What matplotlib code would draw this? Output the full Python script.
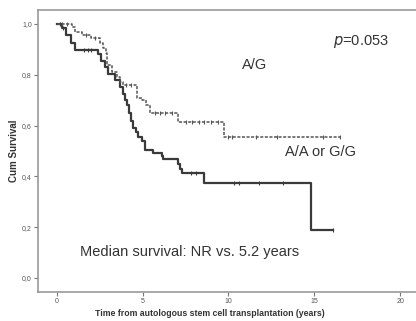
import numpy as np
import matplotlib
matplotlib.use("Agg")
import matplotlib.pyplot as plt

plt.rcParams['font.family'] = ['Liberation Sans', 'DejaVu Sans']

# Kaplan-Meier steps: event times (years) and survival after each step
ag_times = [0, 0.3, 0.55, 0.8, 1.05, 2.4, 2.6, 2.8, 3.0, 3.4, 3.7, 3.85, 3.95, 4.1,
            4.2, 4.3, 4.45, 4.6, 4.75, 4.95, 5.15, 5.6, 6.1, 6.2, 7.05, 7.2, 7.3, 8.6, 14.8]
ag_surv = [1.0, 0.985, 0.955, 0.925, 0.897, 0.88, 0.855, 0.83, 0.805, 0.78, 0.752, 0.725, 0.70, 0.68,
           0.65, 0.62, 0.59, 0.575, 0.555, 0.54, 0.504, 0.492, 0.48, 0.467, 0.45, 0.43, 0.415, 0.374, 0.19]
ag_end = 16.1
ag_censor = [0.2, 0.35, 1.6, 1.8, 2.0, 7.8, 8.1, 10.3, 10.6, 11.8, 13.2, 16.1]

gg_times = [0, 0.9, 1.05, 1.45, 2.0, 2.5, 2.7, 2.85, 2.95, 3.2, 3.5, 3.7, 3.85, 4.65,
            4.95, 5.2, 5.4, 7.05, 9.75]
gg_surv = [1.0, 0.99, 0.97, 0.957, 0.945, 0.925, 0.905, 0.885, 0.84, 0.81, 0.79, 0.77, 0.76, 0.71,
           0.70, 0.68, 0.65, 0.614, 0.555]
gg_end = 16.5
gg_censor = [0.3, 0.6, 1.7, 2.2, 4.0, 4.3, 5.7, 6.0, 6.3, 6.7, 7.5, 7.9, 8.3, 8.6, 9.0, 9.4,
             10.0, 10.2, 11.6, 12.8, 15.5, 16.5]

xticks = [0, 5, 10, 15, 20]
yticks = [0.0, 0.2, 0.4, 0.6, 0.8, 1.0]
ytick_labels = ['0,0', '0,2', '0,4', '0,6', '0,8', '1,0']


def km_curve(ax, times, surv, end, censor, **kw):
    t = np.append(times, end)
    s = np.append(surv, surv[-1])
    ax.step(t, s, where='post', color=kw['color'], lw=kw['lw'], ls=kw['ls'])
    idx = np.searchsorted(times, censor, side='right') - 1
    ax.plot(censor, np.asarray(surv)[idx], ls='none', marker='|', ms=3.5,
            mew=0.8, color=kw['color'])


fig = plt.figure(figsize=(4.16, 3.21), dpi=100)
ax = fig.add_axes([0.0913, 0.0903, 0.92, 0.8785])

km_curve(ax, ag_times, ag_surv, ag_end, ag_censor, color='#3a3a3a', lw=1.6, ls='-')
km_curve(ax, gg_times, gg_surv, gg_end, gg_censor, color='#555555', lw=1.1, ls=(0, (2, 1)))

ax.set_xlim(-1.1, 21.2)
ax.set_ylim(-0.055, 1.055)
ax.set_xticks(xticks)
ax.set_xticklabels([str(v) for v in xticks])
ax.set_yticks(yticks)
ax.set_yticklabels(ytick_labels)
ax.tick_params(labelsize=5, labelcolor='#555555', color='#777777', length=3, width=0.8, pad=1.5)

for side in ['left', 'bottom', 'top']:
    ax.spines[side].set_color('#999999')
    ax.spines[side].set_linewidth(1.2)
ax.spines['right'].set_visible(False)

ax.set_ylabel('Cum Survival', fontsize=7, fontweight='bold', color='#333333', labelpad=2)
ax.set_xlabel('Time from autologous stem cell transplantation (years)', fontsize=6.3,
              fontweight='bold', color='#333333')
ax.xaxis.set_label_coords(0.449, -0.06)

txt = dict(color='#333333', fontsize=10.5, va='center', ha='left')
ax.text(10.8, 0.84, 'A/G', **txt)
ax.text(16.1, 0.933, r'$\it{p}$=0.053', **txt)
ax.text(13.3, 0.496, 'A/A or G/G', **txt)
ax.text(1.35, 0.102, 'Median survival: NR vs. 5.2 years', **txt)

fig.savefig('out.png', dpi=100)
